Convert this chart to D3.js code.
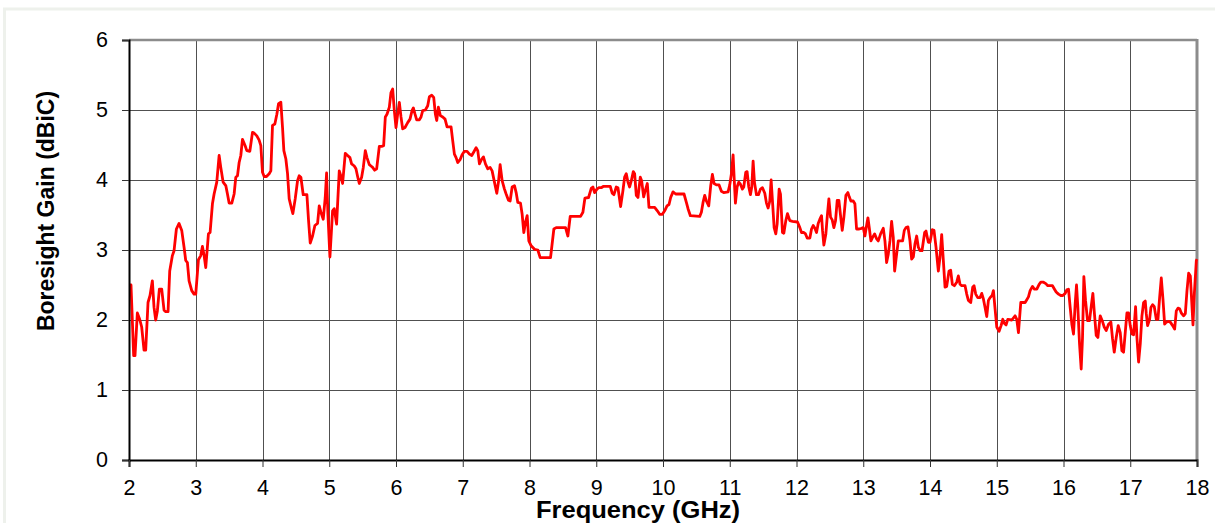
<!DOCTYPE html>
<html>
<head>
<meta charset="utf-8">
<script src="https://cdn.jsdelivr.net/npm/d3@7"></script>
<style>
  body { margin: 0; background: #fff; }
  text { font-family: "Liberation Sans", Arial, sans-serif; fill: #000; }
</style>
</head>
<body>
<script>
// Boresight gain vs frequency
var freq = [
  2.00, 2.03, 2.07, 2.09, 2.125, 2.16, 2.19, 2.225, 2.25, 2.285, 2.315, 2.35, 2.375, 2.40, 2.425, 2.455, 2.49, 2.525, 2.55, 2.585,
  2.61, 2.65, 2.675, 2.71, 2.75, 2.79, 2.825, 2.85, 2.875, 2.90, 2.94, 2.975, 3.00, 3.04, 3.075, 3.10, 3.125, 3.15, 3.19, 3.215,
  3.25, 3.275, 3.315, 3.35, 3.375, 3.41, 3.45, 3.475, 3.50, 3.54, 3.575, 3.60, 3.625, 3.65, 3.675, 3.70, 3.74, 3.765, 3.81, 3.85,
  3.875, 3.915, 3.95, 3.975, 4.00, 4.025, 4.06, 4.10, 4.125, 4.15, 4.185, 4.215, 4.24, 4.275, 4.30, 4.32, 4.35, 4.375, 4.40, 4.43,
  4.455, 4.49, 4.525, 4.55, 4.575, 4.61, 4.665, 4.69, 4.715, 4.75, 4.785, 4.825, 4.85, 4.875, 4.91, 4.94, 4.96, 4.98, 5.01, 5.05,
  5.075, 5.11, 5.15, 5.18, 5.20, 5.24, 5.275, 5.31, 5.335, 5.375, 5.40, 5.425, 5.45, 5.485, 5.51, 5.54, 5.565, 5.60, 5.625, 5.65,
  5.68, 5.71, 5.75, 5.785, 5.815, 5.84, 5.865, 5.90, 5.925, 5.95, 5.975, 6.00, 6.025, 6.05, 6.075, 6.10, 6.135, 6.175, 6.21, 6.24,
  6.26, 6.285, 6.31, 6.35, 6.375, 6.40, 6.44, 6.475, 6.50, 6.535, 6.565, 6.59, 6.61, 6.635, 6.665, 6.70, 6.735, 6.765, 6.825, 6.85,
  6.875, 6.90, 6.925, 6.96, 6.99, 7.025, 7.065, 7.10, 7.135, 7.165, 7.20, 7.225, 7.25, 7.285, 7.31, 7.34, 7.375, 7.41, 7.44, 7.475,
  7.51, 7.535, 7.56, 7.59, 7.625, 7.65, 7.685, 7.71, 7.74, 7.775, 7.80, 7.825, 7.865, 7.89, 7.915, 7.94, 7.965, 7.99, 8.025, 8.075,
  8.125, 8.16, 8.315, 8.365, 8.40, 8.54, 8.575, 8.61, 8.765, 8.80, 8.83, 8.885, 8.925, 8.95, 8.975, 9.01, 9.04, 9.075, 9.11, 9.21,
  9.24, 9.265, 9.30, 9.325, 9.365, 9.40, 9.425, 9.45, 9.475, 9.50, 9.525, 9.555, 9.575, 9.60, 9.625, 9.66, 9.68, 9.71, 9.735, 9.765,
  9.79, 9.875, 9.915, 9.95, 9.99, 10.025, 10.06, 10.09, 10.115, 10.15, 10.19, 10.315, 10.35, 10.375, 10.41, 10.55, 10.575, 10.60, 10.625, 10.65,
  10.685, 10.715, 10.74, 10.765, 10.80, 10.84, 10.875, 10.91, 10.975, 11.00, 11.025, 11.05, 11.065, 11.085, 11.11, 11.135, 11.16, 11.19, 11.21, 11.24,
  11.26, 11.285, 11.31, 11.33, 11.35, 11.37, 11.40, 11.43, 11.46, 11.49, 11.525, 11.55, 11.575, 11.60, 11.62, 11.64, 11.665, 11.69, 11.71, 11.74,
  11.76, 11.79, 11.81, 11.84, 11.865, 11.90, 11.94, 12.015, 12.05, 12.075, 12.11, 12.135, 12.16, 12.20, 12.225, 12.25, 12.275, 12.30, 12.325, 12.35,
  12.375, 12.39, 12.41, 12.44, 12.46, 12.485, 12.51, 12.535, 12.56, 12.585, 12.61, 12.635, 12.66, 12.685, 12.71, 12.74, 12.77, 12.79, 12.815, 12.85,
  12.875, 12.90, 12.94, 12.975, 13.00, 13.025, 13.05, 13.07, 13.09, 13.115, 13.14, 13.17, 13.20, 13.225, 13.26, 13.30, 13.325, 13.35, 13.375, 13.40,
  13.425, 13.45, 13.47, 13.50, 13.525, 13.59, 13.615, 13.64, 13.67, 13.70, 13.725, 13.75, 13.775, 13.80, 13.825, 13.85, 13.88, 13.92, 13.94, 13.975,
  14.00, 14.035, 14.06, 14.09, 14.125, 14.15, 14.175, 14.20, 14.225, 14.25, 14.285, 14.31, 14.335, 14.365, 14.40, 14.425, 14.45, 14.475, 14.525, 14.55,
  14.575, 14.61, 14.64, 14.66, 14.685, 14.715, 14.75, 14.775, 14.80, 14.825, 14.85, 14.875, 14.90, 14.93, 14.95, 14.975, 15.00, 15.035, 15.065, 15.09,
  15.115, 15.14, 15.165, 15.225, 15.275, 15.30, 15.325, 15.36, 15.425, 15.45, 15.475, 15.50, 15.535, 15.565, 15.60, 15.635, 15.66, 15.70, 15.735, 15.765,
  15.835, 15.865, 15.89, 15.925, 15.96, 15.99, 16.025, 16.05, 16.075, 16.10, 16.125, 16.15, 16.175, 16.195, 16.215, 16.24, 16.265, 16.285, 16.305, 16.33,
  16.36, 16.39, 16.42, 16.44, 16.46, 16.49, 16.515, 16.55, 16.58, 16.61, 16.64, 16.675, 16.71, 16.735, 16.76, 16.79, 16.82, 16.85, 16.875, 16.90,
  16.925, 16.95, 16.975, 17.00, 17.025, 17.05, 17.08, 17.10, 17.125, 17.15, 17.175, 17.20, 17.225, 17.24, 17.26, 17.29, 17.31, 17.335, 17.36, 17.39,
  17.415, 17.44, 17.465, 17.49, 17.515, 17.54, 17.575, 17.60, 17.635, 17.665, 17.69, 17.715, 17.74, 17.765, 17.80, 17.825, 17.85, 17.875, 17.90, 17.92,
  17.94, 17.96, 17.99, 18.00
];
var gain = [
  2.50, 2.50, 1.49, 1.49, 2.10, 2.01, 1.90, 1.57, 1.57, 2.25, 2.35, 2.56, 2.18, 2.00, 2.13, 2.44, 2.44, 2.14, 2.12, 2.12,
  2.70, 2.92, 2.99, 3.30, 3.38, 3.28, 3.04, 2.85, 2.82, 2.56, 2.42, 2.37, 2.37, 2.86, 2.92, 3.05, 2.92, 2.75, 3.23, 3.25,
  3.66, 3.80, 3.97, 4.35, 4.18, 3.97, 3.92, 3.80, 3.67, 3.67, 3.80, 4.04, 4.06, 4.25, 4.35, 4.58, 4.49, 4.42, 4.41, 4.68,
  4.67, 4.63, 4.57, 4.49, 4.11, 4.05, 4.05, 4.09, 4.13, 4.78, 4.80, 4.94, 5.09, 5.11, 4.75, 4.42, 4.30, 4.09, 3.73, 3.61,
  3.52, 3.73, 3.99, 4.06, 4.04, 3.79, 3.79, 3.42, 3.10, 3.20, 3.35, 3.38, 3.63, 3.54, 3.44, 3.75, 4.10, 3.51, 2.90, 3.56,
  3.59, 3.37, 4.13, 4.04, 3.95, 4.38, 4.35, 4.32, 4.23, 4.20, 4.16, 4.05, 3.95, 4.04, 4.18, 4.42, 4.32, 4.22, 4.20, 4.18,
  4.14, 4.16, 4.48, 4.48, 4.49, 4.90, 4.94, 5.04, 5.25, 5.30, 4.99, 4.75, 4.94, 5.11, 4.90, 4.73, 4.75, 4.82, 4.87, 4.99,
  5.03, 4.94, 4.86, 4.86, 4.90, 4.99, 5.00, 5.06, 5.19, 5.21, 5.18, 4.94, 4.85, 5.04, 4.92, 4.90, 4.87, 4.76, 4.76, 4.56,
  4.37, 4.32, 4.25, 4.29, 4.36, 4.41, 4.41, 4.37, 4.35, 4.40, 4.46, 4.42, 4.23, 4.30, 4.33, 4.23, 4.16, 4.18, 4.13, 3.97,
  3.81, 3.97, 4.22, 3.99, 3.87, 3.80, 3.71, 3.70, 3.90, 3.92, 3.82, 3.68, 3.67, 3.51, 3.25, 3.40, 3.49, 3.13, 3.06, 3.01,
  3.00, 2.89, 2.89, 3.30, 3.32, 3.32, 3.20, 3.48, 3.48, 3.54, 3.74, 3.75, 3.88, 3.90, 3.82, 3.87, 3.89, 3.89, 3.91, 3.91,
  3.81, 3.79, 3.90, 3.89, 3.62, 3.85, 4.04, 4.09, 3.97, 3.90, 3.99, 4.12, 4.09, 3.78, 3.75, 4.04, 3.99, 3.76, 3.85, 3.95,
  3.61, 3.61, 3.56, 3.51, 3.51, 3.56, 3.63, 3.65, 3.75, 3.83, 3.80, 3.80, 3.68, 3.59, 3.49, 3.48, 3.54, 3.68, 3.78, 3.70,
  3.63, 3.92, 4.08, 3.95, 3.93, 3.93, 3.84, 3.82, 3.83, 3.93, 4.09, 4.36, 4.05, 3.67, 3.90, 3.97, 3.94, 3.87, 3.90, 4.11,
  4.12, 3.90, 3.79, 3.90, 4.27, 3.97, 3.79, 3.79, 3.87, 3.89, 3.81, 3.67, 3.60, 3.70, 4.00, 3.70, 3.32, 3.23, 3.37, 3.87,
  3.80, 3.25, 3.24, 3.42, 3.52, 3.42, 3.41, 3.40, 3.32, 3.25, 3.25, 3.23, 3.17, 3.17, 3.30, 3.35, 3.31, 3.25, 3.38, 3.44,
  3.49, 3.28, 3.07, 3.23, 3.47, 3.73, 3.47, 3.43, 3.32, 3.42, 3.71, 3.71, 3.49, 3.28, 3.47, 3.78, 3.82, 3.76, 3.70, 3.70,
  3.66, 3.30, 3.30, 3.31, 3.32, 3.20, 3.35, 3.46, 3.32, 3.13, 3.18, 3.23, 3.16, 3.13, 3.23, 3.31, 3.13, 2.82, 2.94, 3.13,
  3.41, 3.18, 2.70, 2.94, 3.13, 3.13, 3.28, 3.32, 3.33, 3.13, 2.87, 2.90, 3.09, 3.20, 3.04, 2.99, 2.99, 3.25, 3.27, 3.11,
  3.11, 3.29, 3.28, 3.04, 2.70, 2.90, 3.22, 2.85, 2.47, 2.48, 2.70, 2.71, 2.51, 2.49, 2.54, 2.63, 2.51, 2.49, 2.49, 2.37,
  2.28, 2.25, 2.47, 2.49, 2.37, 2.32, 2.32, 2.38, 2.30, 2.18, 2.05, 2.28, 2.32, 2.35, 2.42, 2.16, 1.90, 1.84, 1.92, 2.01,
  1.95, 1.93, 2.01, 2.00, 2.06, 2.01, 1.82, 2.25, 2.25, 2.29, 2.33, 2.42, 2.48, 2.44, 2.44, 2.51, 2.54, 2.54, 2.52, 2.49,
  2.49, 2.44, 2.40, 2.37, 2.35, 2.35, 2.38, 2.43, 2.44, 2.18, 1.94, 1.80, 2.23, 2.50, 2.18, 1.66, 1.30, 1.75, 2.62, 2.28,
  1.99, 1.99, 2.23, 2.38, 2.13, 1.78, 1.75, 2.06, 1.99, 1.90, 1.85, 1.94, 1.97, 1.73, 1.54, 1.75, 1.92, 1.82, 1.56, 1.54,
  1.82, 2.10, 2.10, 1.92, 1.80, 1.79, 2.19, 1.75, 1.40, 1.66, 2.06, 2.25, 2.27, 2.09, 1.92, 2.01, 2.18, 2.22, 2.19, 2.01,
  2.01, 2.32, 2.60, 2.30, 1.94, 1.97, 1.98, 1.97, 1.92, 1.87, 2.13, 2.17, 2.16, 2.10, 2.06, 2.09, 2.42, 2.67, 2.63, 2.28,
  1.93, 2.37, 2.85, 2.87
];
var xTicks = [2, 3, 4, 5, 6, 7, 8, 9, 10, 11, 12, 13, 14, 15, 16, 17, 18];
var yTicks = [0, 1, 2, 3, 4, 5, 6];

var data = freq.map(function(f, i) { return {f: f, g: gain[i]}; });

// chart dimensions
var margin = {top: 40, right: 18, bottom: 63, left: 129},
    width = 1215 - margin.left - margin.right,
    height = 523 - margin.top - margin.bottom;

var x = d3.scaleLinear().domain([2, 18]).range([0, width]);
var y = d3.scaleLinear().domain([0, 6]).range([height, 0]);

var root = d3.select("body").append("svg")
    .attr("width", 1215)
    .attr("height", 523);

// light outer frame
root.append("rect")
    .attr("x", 4.5).attr("y", 9)
    .attr("width", 1240).attr("height", 600)
    .attr("fill", "none")
    .attr("stroke", "#eef1ec")
    .attr("stroke-width", 3);

var svg = root.append("g")
    .attr("transform", "translate(" + margin.left + "," + margin.top + ")");

// gridlines
svg.append("g")
    .attr("class", "grid")
    .call(d3.axisLeft(y).tickValues(yTicks.slice(1, -1)).tickSize(-width).tickFormat(""))
    .call(function(g) { g.select(".domain").remove(); });
svg.append("g")
    .attr("class", "grid")
    .attr("transform", "translate(0," + height + ")")
    .call(d3.axisBottom(x).tickValues(xTicks.slice(1, -1)).tickSize(-height).tickFormat(""))
    .call(function(g) { g.select(".domain").remove(); });
svg.selectAll(".grid line")
    .attr("stroke", "#505050")
    .attr("shape-rendering", "crispEdges");

// top and right border
svg.append("line")
    .attr("x1", 0).attr("x2", width).attr("y1", 0).attr("y2", 0)
    .attr("stroke", "#8c8c8c").attr("stroke-width", 2.5);
svg.append("line")
    .attr("x1", width).attr("x2", width).attr("y1", -1).attr("y2", height)
    .attr("stroke", "#8c8c8c").attr("stroke-width", 3);

// the curve
var line = d3.line()
    .x(function(d) { return x(d.f); })
    .y(function(d) { return y(d.g); });

svg.append("path")
    .datum(data)
    .attr("fill", "none")
    .attr("stroke", "#ff0000")
    .attr("stroke-width", 2.8)
    .attr("stroke-linejoin", "round")
    .attr("d", line);

// axes
var yAxis = svg.append("g")
    .call(d3.axisLeft(y).tickValues(yTicks).tickFormat(d3.format("d"))
      .tickSizeOuter(0).tickSize(7).tickPadding(14));
var xAxis = svg.append("g")
    .attr("transform", "translate(0," + height + ")")
    .call(d3.axisBottom(x).tickValues(xTicks).tickFormat(d3.format("d"))
      .tickSizeOuter(0).tickSize(7).tickPadding(13));

[yAxis, xAxis].forEach(function(a) {
  a.select(".domain").attr("stroke", "#000").attr("stroke-width", 2);
  a.selectAll(".tick line").attr("stroke", "#333").attr("stroke-width", 1);
  a.selectAll(".tick text")
    .style("font-family", "'Liberation Sans', Arial, sans-serif")
    .style("font-size", "21.5px")
    .attr("fill", "#000");
});

// axis titles
root.append("text")
    .attr("transform", "translate(54,211) rotate(-90)")
    .attr("text-anchor", "middle")
    .style("font-size", "23px")
    .style("font-weight", "bold")
    .text("Boresight Gain (dBiC)");

root.append("text")
    .attr("transform", "translate(638,518) scale(1.11,1)")
    .attr("text-anchor", "middle")
    .style("font-size", "23px")
    .style("font-weight", "bold")
    .text("Frequency (GHz)");
</script>
</body>
</html>
